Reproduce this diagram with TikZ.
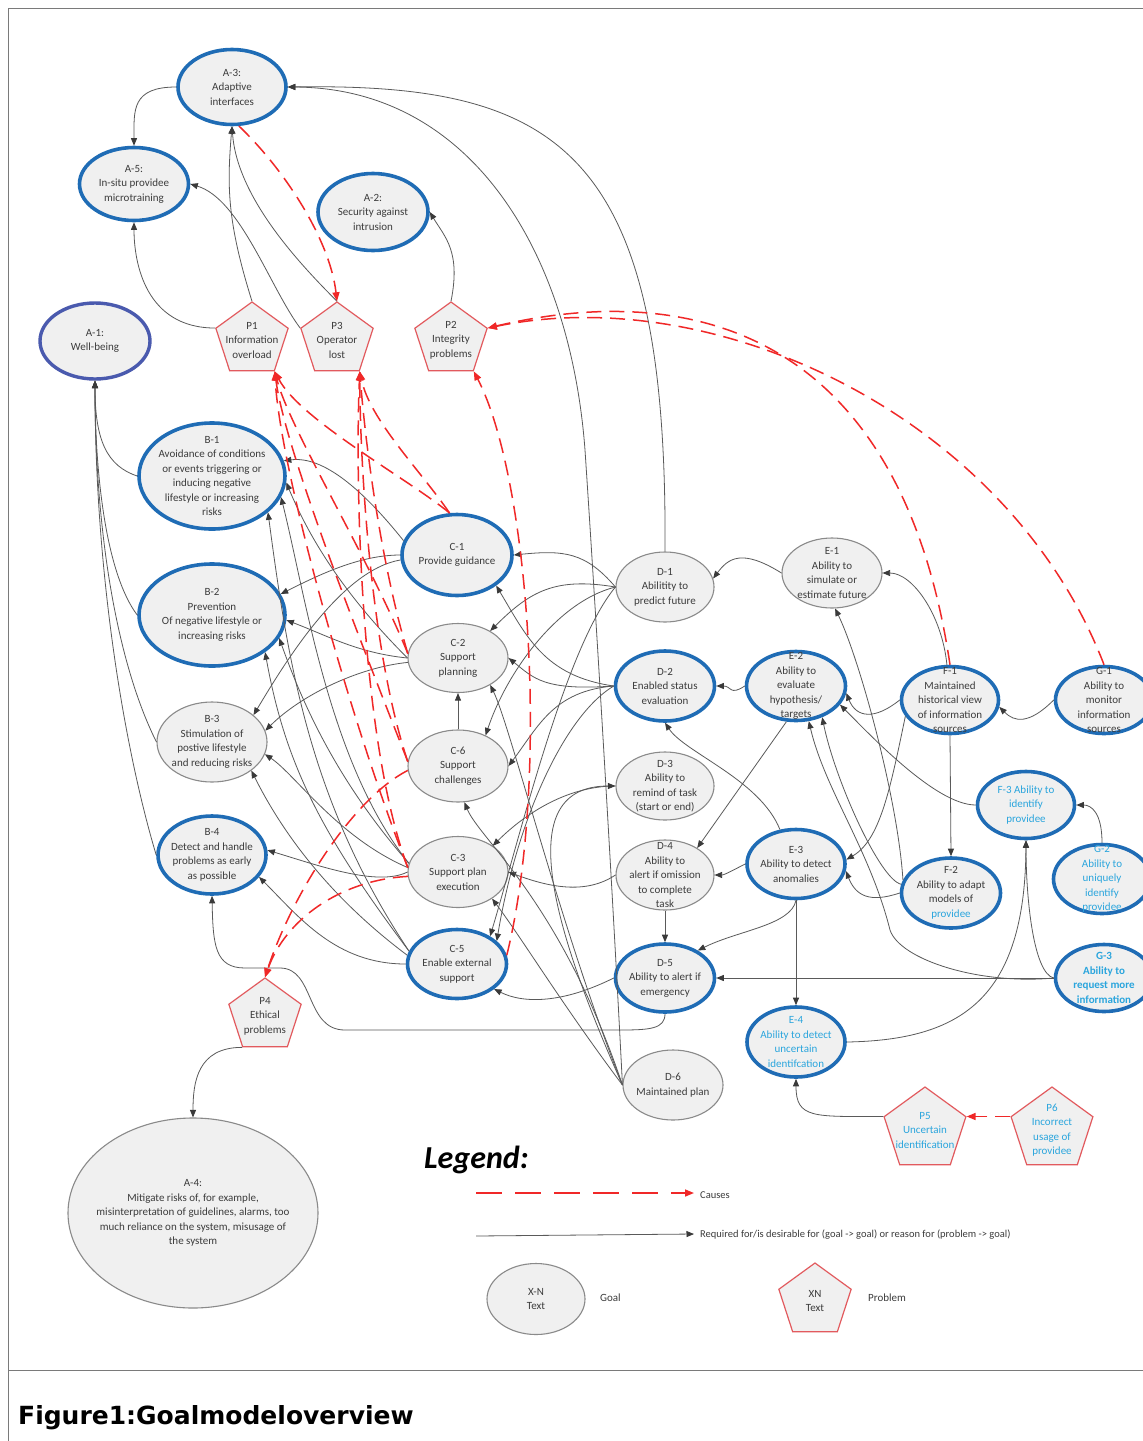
\documentclass[tikz,border=0pt]{standalone}
\usepackage{fontspec}
\setmainfont{Carlito}
\newfontfamily\capfont{DejaVu Sans}
\usetikzlibrary{shapes.geometric,arrows.meta}

\definecolor{goalblue}{HTML}{1F6CB5}
\definecolor{wellblue}{HTML}{4A5AAE}
\definecolor{rimgray}{HTML}{8A8A8A}
\definecolor{linegray}{HTML}{5A5A5A}
\definecolor{tipgray}{HTML}{3A3A3A}
\definecolor{txtgray}{HTML}{3C3C3C}
\definecolor{causered}{HTML}{F02828}
\definecolor{probred}{HTML}{E25A5E}
\definecolor{idcyan}{HTML}{2AA5DD}
\definecolor{fillgray}{HTML}{F0F0F0}
\definecolor{framegray}{HTML}{7A7A7A}

\tikzset{
  shell/.style={ellipse, inner sep=0pt, fill=fillgray},
  keygoal/.style={shell, draw=goalblue, line width=3.6pt},
  plaingoal/.style={shell, draw=rimgray, line width=1.1pt},
  wellgoal/.style={shell, draw=wellblue, line width=3.4pt},
  problem/.style={regular polygon, regular polygon sides=5, inner sep=0pt,
    draw=probred, line width=1.2pt, fill=fillgray},
  lbl/.style={align=center, text=txtgray, inner sep=0pt,
    font=\fontsize{11}{14.5}\selectfont},
  idlbl/.style={lbl, text=idcyan},
  req/.style={draw=linegray, line width=0.8pt,
    -{Triangle[length=7.5pt,width=6pt,color=tipgray]}},
  cause/.style={draw=causered, line width=1.5pt, dash pattern=on 15pt off 8pt,
    -{Triangle[length=9pt,width=7pt,color=causered]}},
}

% goal: style, name, centre, width, height, text style, text
\newcommand\mkgoal[7]{%
  \node[#1, minimum width=#4pt, minimum height=#5pt] (#2) at (#3) {};
  \node[#6] (#2-t) at (#2) {#7};}
% problem: name, centre, size, text style, text
\newcommand\mkprob[5]{%
  \node[problem, minimum size=#3pt] (#1) at (#2) {};
  \node[#4] (#1-t) at (#1) {#5};}

\begin{document}
\begin{tikzpicture}[x=1pt,y=-1pt]
\clip (0,0) rectangle (1143,1441);
\fill[white] (0,0) rectangle (1143,1441);

% frame
\draw[framegray, line width=1pt] (8,1441) -- (8,8) -- (1150,8);
\draw[framegray, line width=1pt] (8,1370) -- (1150,1370);

% ---------- goals ----------
\mkgoal{keygoal}{A3}{232,87}{108}{75}{lbl}{A-3:\\Adaptive\\interfaces}
\mkgoal{keygoal}{A5}{134,184}{109}{73}{lbl}{A-5:\\In-situ providee\\microtraining}
\mkgoal{keygoal}{A2}{373,212}{110}{77}{lbl}{A-2:\\Security against\\intrusion}
\mkgoal{wellgoal}{A1}{95,341}{110}{76}{lbl}{A-1:\\Well-being}
\mkgoal{keygoal}{B1}{212,476}{146}{106}{lbl}{B-1\\Avoidance of conditions\\or events triggering or\\inducing negative\\lifestyle or increasing\\risks}
\mkgoal{keygoal}{B2}{212,615}{146}{102}{lbl}{B-2\\Prevention\\Of negative lifestyle or\\increasing risks}
\mkgoal{plaingoal}{B3}{212,742}{110}{80}{lbl}{B-3\\Stimulation of\\postive lifestyle\\and reducing risks}
\mkgoal{keygoal}{B4}{212,855}{108}{78}{lbl}{B-4\\Detect and handle\\problems as early\\as possible}
\mkgoal{plaingoal}{A4}{193,1213}{250}{190}{lbl}{A-4:\\Mitigate risks of, for example,\\misinterpretation of guidelines, alarms, too\\much reliance on the system, misusage of\\the system}

\mkgoal{keygoal}{C1}{457,555}{110}{81}{lbl}{C-1\\Provide guidance}
\mkgoal{plaingoal}{C2}{458,658}{100}{69}{lbl}{C-2\\Support\\planning}
\mkgoal{plaingoal}{C6}{458,766}{100}{72}{lbl}{C-6\\Support\\challenges}
\mkgoal{plaingoal}{C3}{458,872}{100}{71}{lbl}{C-3\\Support plan\\execution}
\mkgoal{keygoal}{C5}{457,964}{99}{69}{lbl}{C-5\\Enable external\\support}

\mkgoal{plaingoal}{D1}{665,587}{98}{70}{lbl}{D-1\\Abilitity to\\predict future}
\mkgoal{keygoal}{D2}{665,686}{99}{70}{lbl}{D-2\\Enabled status\\evaluation}
\mkgoal{plaingoal}{D3}{665,786}{98}{68}{lbl}{D-3\\Ability to\\remind of task\\(start or end)}
\mkgoal{plaingoal}{D4}{665,875}{98}{70}{lbl}{D-4\\Ability to\\alert if omission\\to complete\\task}
\mkgoal{keygoal}{D5}{665,978}{99}{68}{lbl}{D-5\\Ability to alert if\\emergency}
\mkgoal{plaingoal}{D6}{673,1085}{100}{70}{lbl}{D-6\\Maintained plan}

\mkgoal{plaingoal}{E1}{832,573}{100}{70}{lbl}{E-1\\Ability to\\simulate or\\estimate future}
\mkgoal{keygoal}{E2}{796,686}{99}{69}{lbl}{E-2\\Ability to\\evaluate\\hypothesis/\\targets}
\mkgoal{keygoal}{E3}{796,864}{98}{69}{lbl}{E-3\\Ability to detect\\anomalies}
\mkgoal{keygoal}{E4}{796,1042}{98}{70}{idlbl}{E-4\\Ability to detect\\uncertain\\identifcation}
\mkgoal{keygoal}{F1}{950,700}{97}{67}{lbl}{F-1\\Maintained\\historical view\\of information\\sources}
\mkgoal{keygoal}{F2}{951,893}{99}{70}{lbl}{F-2\\Ability to adapt\\models of\\\textcolor{idcyan}{providee}}
\mkgoal{keygoal}{F3}{1026,805}{97}{67}{idlbl}{F-3 Ability to\\identify\\providee}
\mkgoal{keygoal}{G1}{1104,700}{97}{67}{lbl}{G-1\\Ability to\\monitor\\information\\sources}
\mkgoal{keygoal}{G2}{1102,879}{97}{69}{idlbl}{G-2\\Ability to\\uniquely\\identify\\providee}
\mkgoal{keygoal}{G3}{1104,978}{97}{67}{idlbl}{\bfseries G-3\\\bfseries Ability to\\\bfseries request more\\\bfseries information}

% ---------- problems ----------
\mkprob{P1}{252,340}{76}{lbl}{P1\\Information\\overload}
\mkprob{P3}{337,340}{76}{lbl}{P3\\Operator\\lost}
\mkprob{P2}{451,340}{76}{lbl}{P2\\Integrity\\problems}
\mkprob{P4}{265,1016}{76}{lbl}{P4\\Ethical\\problems}
\mkprob{P5}{925,1130}{86}{idlbl}{P5\\Uncertain\\identification}
\mkprob{P6}{1052,1130}{86}{idlbl}{P6\\Incorrect\\usage of\\providee}

% ---------- required-for links ----------
% upper level
\draw[req] (A3.west) .. controls +(-45,0) and +(0,-35) .. (A5.north);
\draw[req] (P1.corner 2) .. controls +(-70,0) and +(0,40) .. (A5.south);
\draw[req] (P1.corner 1) .. controls +(-25,-80) and +(-5,60) .. (A3.south);
\draw[req] (P3.corner 1) .. controls +(-40,-40) and +(5,70) .. (A3.south);
\draw[req] (P3.corner 2) .. controls +(-30,-40) and +(50,15) .. (A5.east);
\draw[req] (P2.corner 1) .. controls +(10,-50) and +(15,25) .. (A2.east);
\draw[req] (D1.north) .. controls (668,150) and (560,83) .. (A3.east);
\draw[req] (D6.west) .. controls (612,880) and (595,600) .. (585,450)
                     .. controls (570,250) and (470,88) .. (A3.east);

% into well-being
\draw[req] (B1.west) .. controls +(-30,-10) and +(0,60) .. (A1.south);
\draw[req] (B2.west) .. controls +(-30,-40) and +(0,100) .. (A1.south);
\draw[req] (B3.west) .. controls +(-40,-80) and +(0,150) .. (A1.south);
\draw[req] (B4.west) .. controls +(-30,-100) and +(0,200) .. (A1.south);

% C level into B level
\draw[req] (C1.165) .. controls +(-40,-50) and +(40,-5) .. (B1.12);
\draw[req] (C2.west) .. controls +(-60,-60) and +(25,60) .. (B1.-5);
\draw[req] (C3.170) .. controls +(-80,-100) and +(25,100) .. (B1.-17);
\draw[req] (C5.165) .. controls +(-100,-150) and +(20,150) .. (B1.-33);
\draw[req] (C1.west) .. controls +(-40,0) and +(40,-20) .. (B2.17);
\draw[req] (C2.west) .. controls +(-50,-5) and +(40,15) .. (B2.-4);
\draw[req] (C3.170) .. controls +(-70,-80) and +(25,70) .. (B2.-19);
\draw[req] (C5.165) .. controls +(-90,-120) and +(20,110) .. (B2.-35);
\draw[req] (C1.185) .. controls +(-60,10) and +(30,-50) .. (B3.33);
\draw[req] (C2.185) .. controls +(-50,5) and +(35,-35) .. (B3.12);
\draw[req] (C3.175) .. controls +(-70,-30) and +(30,20) .. (B3.-13);
\draw[req] (C5.170) .. controls +(-80,-60) and +(30,60) .. (B3.-36);
\draw[req] (C3.west) .. controls +(-30,15) and +(50,15) .. (B4.5);
\draw[req] (C5.west) .. controls +(-70,0) and +(40,40) .. (B4.-25);
\draw[req] (D5.south) .. controls +(0,15) and +(30,0) .. (620,1030) -- (345,1030)
           .. controls (305,1030) and (315,968) .. (280,968) -- (245,968)
           .. controls (215,968) and (213,945) .. (B4.south);

% D level into C level
\draw[req] (C6.north) -- (C2.south);
\draw[req] (D1.west) .. controls +(-30,-35) and +(50,-5) .. (C1.east);
\draw[req] (D1.west) .. controls +(-60,-10) and +(40,-40) .. (C2.40);
\draw[req] (D1.west) .. controls +(-60,15) and +(20,-60) .. (C6.48);
\draw[req] (D1.west) .. controls +(-50,60) and +(30,-100) .. (C5.40);
\draw[req] (D2.west) .. controls +(-70,-10) and +(30,50) .. (C1.-38);
\draw[req] (D2.west) .. controls +(-70,5) and +(25,20) .. (C2.east);
\draw[req] (D2.west) .. controls +(-60,5) and +(30,-40) .. (C6.east);
\draw[req] (D2.west) .. controls +(-50,30) and +(20,-120) .. (C5.30);
\draw[req] (D3.west) .. controls +(-50,0) and +(30,-30) .. (C3.37);
\draw[req] (D4.west) .. controls +(-30,20) and +(40,15) .. (C3.east);
\draw[req] (D5.west) .. controls +(-50,25) and +(30,15) .. (C5.-34);
\draw[req] (D4.south) -- (D5.north);
\draw[req] (D6.west) .. controls (540,900) and (520,786) .. (D3.west);
\draw[req] (D6.west) .. controls +(-60,-150) and +(20,40) .. (C2.-40);
\draw[req] (D6.west) .. controls (560,900) and (480,840) .. (C6.-80);
\draw[req] (D6.west) .. controls +(-60,-80) and +(30,40) .. (C3.-38);

% E level into D level
\draw[req] (E1.west) .. controls +(-40,-25) and +(15,-20) .. (D1.10);
\draw[req] (E2.west) .. controls +(-15,10) and +(15,0) .. (D2.east);
\draw[req] (E2.-105) -- (D4.40);
\draw[req] (E3.west) .. controls +(-10,5) and +(10,0) .. (D4.east);
\draw[req] (E3.south) .. controls +(-5,25) and +(40,-20) .. (D5.40);
\draw[req] (E3.115) .. controls +(-20,-50) and +(20,30) .. (D2.south);
\draw[req] (G3.west) -- (D5.east);
\draw[req] (E3.south) -- (E4.north);

% F and G level
\draw[req] (F1.95) .. controls +(-5,-50) and +(30,0) .. (E1.east);
\draw[req] (F1.west) .. controls +(-25,20) and +(10,25) .. (E2.-8);
\draw[req] (G1.west) .. controls +(-25,25) and +(15,15) .. (F1.-8);
\draw[req] (F1.south) -- (F2.north);
\draw[req] (F1.200) .. controls (890,790) and (880,840) .. (E3.5);
\draw[req] (F2.west) .. controls +(-30,10) and +(10,25) .. (E3.-8);
\draw[req] (F2.165) .. controls (898,800) and (860,660) .. (E1.-85);
\draw[req] (F2.170) .. controls (880,880) and (835,780) .. (E2.-50);
\draw[req] (G3.west) .. controls (980,985) and (900,960) .. (890,930)
           .. controls (870,850) and (825,790) .. (E2.-70);
\draw[req] (F3.west) .. controls +(-40,0) and +(30,30) .. (E2.-23);
\draw[req] (G2.north) .. controls +(0,-30) and +(15,0) .. (F3.east);
\draw[req] (G3.west) .. controls +(-20,-5) and +(0,60) .. (F3.south);
\draw[req] (E4.east) .. controls (960,1040) and (1025,1000) .. (F3.south);
\draw[req] (P5.corner 2) .. controls +(-70,0) and +(0,40) .. (E4.south);
\draw[req] (P4.corner 3) .. controls +(-45,0) and +(0,-35) .. (A4.north);

% ---------- causes links ----------
\draw[cause] (A3.-80) .. controls (285,170) and (330,240) .. (P3.corner 1);
\draw[cause] (F1.north) .. controls (900,330) and (690,280) .. (P2.corner 5);
\draw[cause] (G1.north) .. controls (1010,420) and (720,280) .. (P2.corner 5);
\draw[cause] (C1.100) .. controls (410,480) and (300,420) .. (P1.corner 4);
\draw[cause] (C2.175) .. controls (370,560) and (290,430) .. (P1.corner 4);
\draw[cause] (C6.175) .. controls (360,640) and (285,450) .. (P1.corner 4);
\draw[cause] (C3.175) .. controls (350,720) and (280,470) .. (P1.corner 4);
\draw[cause] (C1.100) .. controls (420,470) and (370,420) .. (P3.corner 4);
\draw[cause] (C2.175) .. controls (380,560) and (365,440) .. (P3.corner 4);
\draw[cause] (C6.175) .. controls (370,650) and (360,460) .. (P3.corner 4);
\draw[cause] (C3.175) .. controls (360,740) and (355,480) .. (P3.corner 4);
\draw[cause] (C6.185) .. controls (350,800) and (290,900) .. (P4.corner 1);
\draw[cause] (C3.185) .. controls (340,880) and (285,920) .. (P4.corner 1);
\draw[cause] (C5.10) .. controls (550,780) and (530,480) .. (P2.corner 4);
\draw[cause] (P6.corner 2) -- (P5.corner 5);

% ---------- legend ----------
\node[anchor=west, inner sep=0pt, font=\fontsize{32}{36}\selectfont\bfseries\itshape]
  (lgTitle) at (424,1160) {Legend:};
\coordinate (lgCa) at (476,1193);
\coordinate (lgCb) at (694,1193);
\draw[cause, dash pattern=on 26pt off 13pt] (lgCa) -- (lgCb);
\node[lbl, anchor=west, font=\fontsize{10.5}{13}\selectfont] (lgCause) at (700,1195) {Causes};
\coordinate (lgRa) at (476,1236);
\coordinate (lgRb) at (694,1234);
\draw[req] (lgRa) -- (lgRb);
\node[lbl, anchor=west, font=\fontsize{10.5}{13}\selectfont] (lgReq) at (700,1235)
  {Required for/is desirable for (goal -> goal) or reason for (problem -> goal)};
\mkgoal{plaingoal}{lgGoal}{536,1299}{98}{71}{lbl}{X-N\\Text}
\node[lbl, anchor=west] (lgGoalTxt) at (600,1298) {Goal};
\mkprob{lgProb}{815,1301}{76}{lbl}{XN\\Text}
\node[lbl, anchor=west] (lgProbTxt) at (868,1298) {Problem};

% ---------- caption ----------
\node[anchor=west, inner sep=0pt, font=\capfont\bfseries\fontsize{25}{30}\selectfont]
  (caption) at (18,1418) {Figure1:Goalmodeloverview};
\end{tikzpicture}
\end{document}
